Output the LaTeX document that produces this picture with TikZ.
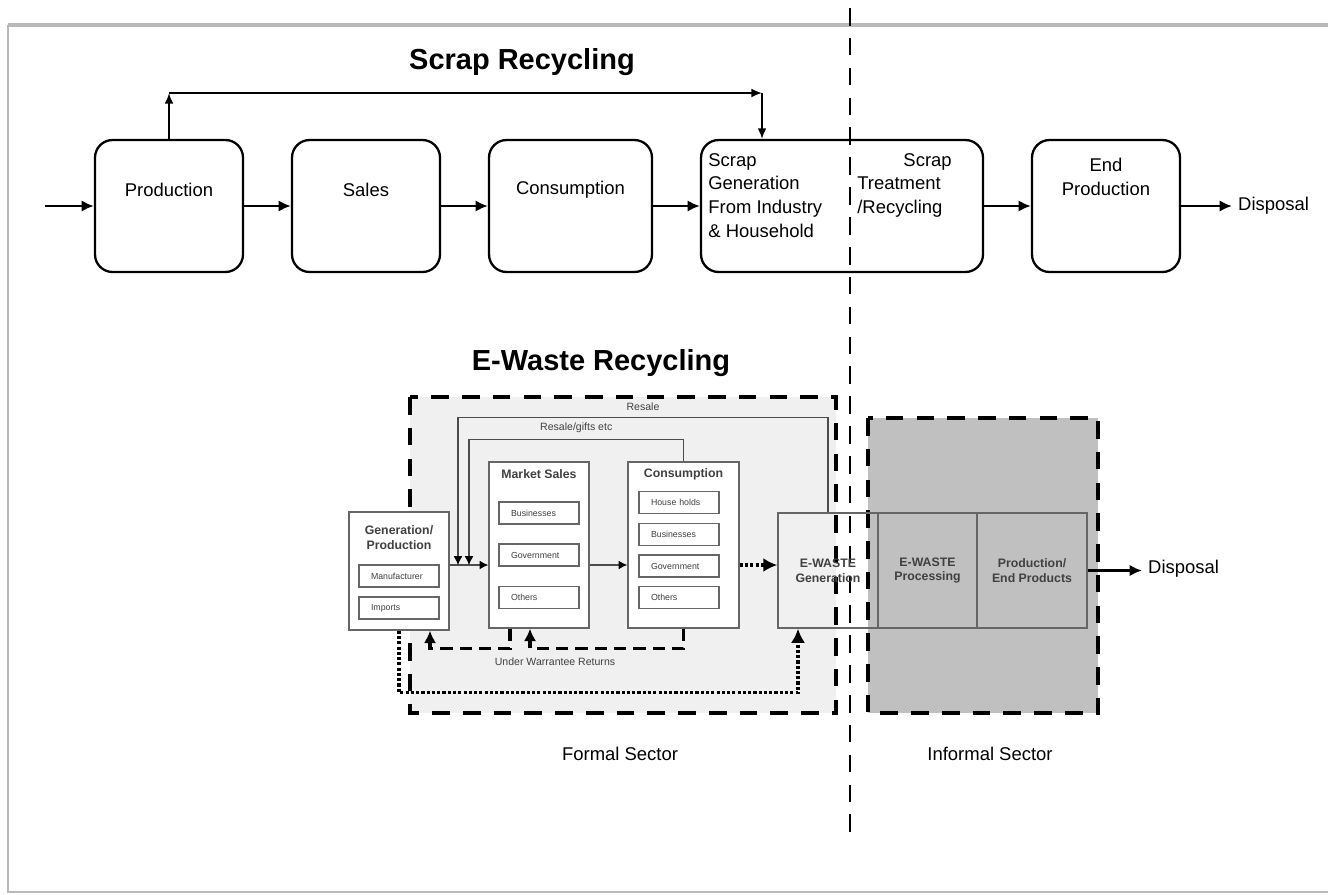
\documentclass[tikz,border=0pt]{standalone}
\usepackage{fontspec}
\setmainfont{Liberation Sans}
\usetikzlibrary{shapes,arrows.meta}
\definecolor{informal}{RGB}{192,192,192}
\definecolor{formalbg}{RGB}{240,240,240}
\tikzstyle{block} = [rectangle, draw, line width=1.3pt, rounded corners=10pt, minimum height=2.64cm]
\tikzstyle{blocktext} = [align=center, font=\fontsize{10.5}{13.5}\selectfont]
\tikzstyle{title} = [font=\fontsize{16.5}{20}\selectfont\bfseries]
\tikzstyle{line} = [draw, line width=1.5pt, -{Latex[length=7pt,width=6.5pt]}]
\tikzstyle{thinline} = [draw, line width=1pt, -{Latex[length=6pt,width=5pt]}]
\tikzstyle{divider} = [draw, line width=1.6pt, dash pattern=on 10pt off 7pt]
\tikzstyle{sectorbox} = [draw, line width=2.8pt, dash pattern=on 10pt off 7.5pt]
\tikzstyle{ebox} = [rectangle, draw=gray!80!black, line width=0.8pt, align=center, text=gray!50!black, font=\fontsize{7}{8.5}\selectfont\bfseries]
\tikzstyle{etitle} = [align=center, text=gray!50!black, font=\fontsize{7}{8.5}\selectfont\bfseries]
\tikzstyle{subbox} = [rectangle, draw=gray!80!black, line width=0.8pt, text width=1.12cm, inner xsep=0.24cm, minimum height=0.44cm, align=left, text=gray!50!black, font=\fontsize{5}{6}\selectfont]
\tikzstyle{note} = [text=gray!50!black, font=\fontsize{6}{7}\selectfont]
\tikzstyle{flow} = [draw, gray!60!black, line width=0.6pt, -{Latex[black,length=5pt,width=5pt]}]
\tikzstyle{warranty} = [draw, line width=2pt, dash pattern=on 7pt off 4pt, -{Latex[length=7pt,width=7pt]}]
\tikzstyle{dotflow} = [draw, line width=1.8pt, dash pattern=on 1.8pt off 1.2pt, -{Latex[length=8pt,width=8pt]}]

\begin{document}
\begin{tikzpicture}[x=0.02cm, y=-0.02cm]
\useasboundingbox (0,0) rectangle (1328,894);

% frame
\draw [gray!55, line width=2.2pt] (1328,25) -- (8,25);
\draw [gray!55, line width=1.2pt] (8,25) -- (8,892) -- (1328,892);

% scrap recycling

\node [title] at (522,62) (scraptitle) {Scrap Recycling};

\node [block, minimum width=2.96cm] at (169,206) (prod) {};
\node [block, minimum width=2.96cm] at (366,206) (sales) {};
\node [block, minimum width=3.26cm] at (570.5,206) (cons1) {};
\node [block, minimum width=5.64cm] at (842,206) (scrap) {};
\node [block, minimum width=2.96cm] at (1106,206) (endprod) {};

\node [blocktext] at (169,190) (prodtxt) {Production};
\node [blocktext] at (366,190) (salestxt) {Sales};
\node [blocktext] at (570.5,190) (cons1txt) {Consumption};
\node [blocktext, align=left, anchor=north west, inner sep=0] at (708,153) (scrapgen) {Scrap\\Generation\\From Industry\\\& Household};
\node [blocktext, align=left, anchor=north west, inner sep=0] at (857,153) (scraptreat) {\hspace*{2.5em}Scrap\\Treatment\\/Recycling};
\node [blocktext] at (1106,177) (endprodtxt) {End\\Production};
\node [blocktext, anchor=west] at (1232,206) (disp) {Disposal};

\coordinate (in) at (45,206);
\path [line] (in) -- (prod.west);
\path [line] (prod.east) -- (sales.west);
\path [line] (sales.east) -- (cons1.west);
\path [line] (cons1.east) -- (scrap.west);
\path [line] (scrap.east) -- (endprod.west);
\path [line] (endprod.east) -- (disp.west);

\coordinate (loopl) at (169,93);
\coordinate (loopr) at (762,93);
\path [thinline] (prod.north) -- (loopl);
\path [thinline] (loopl) -- (loopr);
\path [thinline] (loopr) -- (loopr |- scrap.north);

% e-waste recycling

\node [title] at (601,363) (ewtitle) {E-Waste Recycling};

\draw [sectorbox, fill=formalbg] (410,397) rectangle (836,713);
\draw [sectorbox, fill=informal] (868,418) rectangle (1098,713);
\draw [divider] (850,8) -- (850,833);

\node [blocktext] at (620,754) (formal) {Formal Sector};
\node [blocktext] at (990,754) (informaltxt) {Informal Sector};

\node [ebox, fill=white, minimum width=2cm, minimum height=2.36cm] at (399,571) (gen) {};
\node [etitle, anchor=north] at (399,519) (gentitle) {Generation/\\Production};
\node [subbox] at (399,576) (manuf) {Manufacturer};
\node [subbox] at (399,608) (imports) {Imports};

\node [ebox, fill=white, minimum width=2cm, minimum height=3.32cm] at (539,545) (ms) {};
\node [etitle] at (539,474) (mstitle) {Market Sales};
\node [subbox] at (539,513) (msbus) {Businesses};
\node [subbox] at (539,555) (msgov) {Government};
\node [subbox] at (539,597.5) (msoth) {Others};

\node [ebox, fill=white, minimum width=2.22cm, minimum height=3.32cm] at (683.5,545) (cons) {};
\node [etitle] at (683.5,474) (constitle) {Consumption};
\node [subbox] at (679,502.5) (conshh) {House holds};
\node [subbox] at (679,534.5) (consbus) {Businesses};
\node [subbox] at (679,566) (consgov) {Government};
\node [subbox] at (679,597.5) (consoth) {Others};

\node [ebox, minimum width=2cm, minimum height=2.3cm] at (828,570.5) (ewgen) {E-WASTE\\Generation};
\node [ebox, minimum width=1.98cm, minimum height=2.3cm] at (927.5,570.5) (ewproc) {E-WASTE\\Processing};
\node [ebox, minimum width=2.2cm, minimum height=2.3cm] at (1032,570.5) (ewprod) {Production/\\End Products};

\node [blocktext, anchor=west] at (1142,569) (disp2) {Disposal};
\path [line] (ewprod.east) -- (ewprod.east -| disp2.west);

% flows
\coordinate (row) at (0,565);
\coordinate (resale) at (458,565);
\coordinate (gifts) at (469,565);
\path [flow] (gen.east |- row) -- (ms.west |- row);
\path [flow] (ms.east |- row) -- (cons.west |- row);
\path [dotflow] (cons.east |- row) -- (ewgen.west |- row);

\path [flow] (ewgen.north) -- ++(0,-95) -| node [note, above, pos=0.25] {Resale} (resale);
\path [flow] (cons.north) -- ++(0,-22) -| node [note, above, pos=0.25] {Resale/gifts etc} (gifts);

\path [warranty] (cons.south) -- ++(0,20) -| ([xshift=-0.18cm]ms.south);
\path [warranty] ([xshift=-0.58cm]ms.south) -- ++(0,20) -| ([xshift=0.62cm]gen.south);
\node [note] at (555,662) (warrtxt) {Under Warrantee Returns};

\path [dotflow] (gen.south) -- ++(0,62) -| ([xshift=-0.6cm]ewgen.south);

\end{tikzpicture}
\end{document}
